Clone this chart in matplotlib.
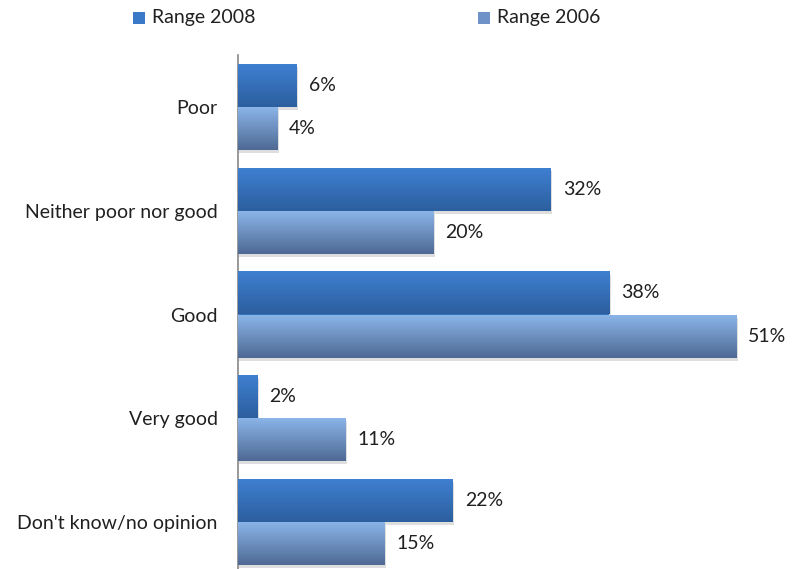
import numpy as np
import matplotlib.pyplot as plt
from matplotlib.patches import Rectangle
from matplotlib.colors import LinearSegmentedColormap

categories = ["Poor", "Neither poor nor good", "Good", "Very good", "Don't know/no opinion"]
range_2008 = [6, 32, 38, 2, 22]
range_2006 = [4, 20, 51, 11, 15]
series_names = ["Range 2008", "Range 2006"]

plt.rcParams['font.family'] = ['Lato', 'DejaVu Sans']

W, H = 798, 569
fig = plt.figure(figsize=(W / 100, H / 100), dpi=100)
fig.patch.set_facecolor('white')

# plot area: left edge at the value axis, top just above the first bar
left, right, top, bottom = 238, 790, 55, 574
ax = fig.add_axes([left / W, 1 - bottom / H, (right - left) / W, (bottom - top) / H])

n = len(categories)
y = np.arange(n)
h = 0.415
FS = 14

dark_cmap = LinearSegmentedColormap.from_list('dark', ['#3f80d2', '#2c5f9f'])
light_cmap = LinearSegmentedColormap.from_list('light', ['#8cb6ea', '#4e6a94'])

bars08 = ax.barh(y - h / 2, range_2008, height=h, color='#3570bd', linewidth=0, zorder=2)
bars06 = ax.barh(y + h / 2, range_2006, height=h, color='#7393c4', linewidth=0, zorder=2)

grad = np.linspace(0, 1, 64).reshape(-1, 1)


def shade(bars, cmap):
    for p in bars:
        x0, y0 = p.get_x(), p.get_y()
        w, hh = p.get_width(), p.get_height()
        # soft drop shadow
        ax.add_patch(Rectangle((x0 + 0.15, y0 + 0.03), w, hh, facecolor='#c8c8c8',
                               edgecolor='none', zorder=1, alpha=0.6))
        im = ax.imshow(grad, cmap=cmap, aspect='auto', interpolation='bicubic',
                       extent=(x0, x0 + w, y0 + hh, y0), zorder=3)
        im.set_clip_path(p)


shade(bars08, dark_cmap)
shade(bars06, light_cmap)

ax.set_xlim(0, 56.5)
ax.set_ylim(n - 0.5, -0.5)

for bars, vals in ((bars08, range_2008), (bars06, range_2006)):
    for p, v in zip(bars, vals):
        ax.annotate(f"{v}%", xy=(v, p.get_y() + p.get_height() / 2),
                    xytext=(12, 0), textcoords='offset pixels',
                    ha='left', va='center', fontsize=FS, color='#202020', zorder=4)

ax.set_yticks(y)
ax.set_yticklabels(categories, fontsize=FS, color='#202020')
ax.tick_params(axis='y', length=0, pad=14.5)
ax.set_xticks([])
for s in ('top', 'right', 'bottom'):
    ax.spines[s].set_visible(False)
ax.spines['left'].set_color('#888888')
ax.spines['left'].set_linewidth(1.2)

# legend along the top
legend_items = [(133, '#3a78c8', series_names[0]), (478, '#6f93c8', series_names[1])]
for px, col, name in legend_items:
    fig.add_artist(Rectangle((px / W, 1 - 24 / H), 12 / W, 12 / H, transform=fig.transFigure,
                             facecolor=col, edgecolor='none'))
    fig.text((px + 19) / W, 1 - 18 / H, name, ha='left', va='center',
             fontsize=FS, color='#202020')

fig.savefig('out.png', dpi=100, facecolor='white')
